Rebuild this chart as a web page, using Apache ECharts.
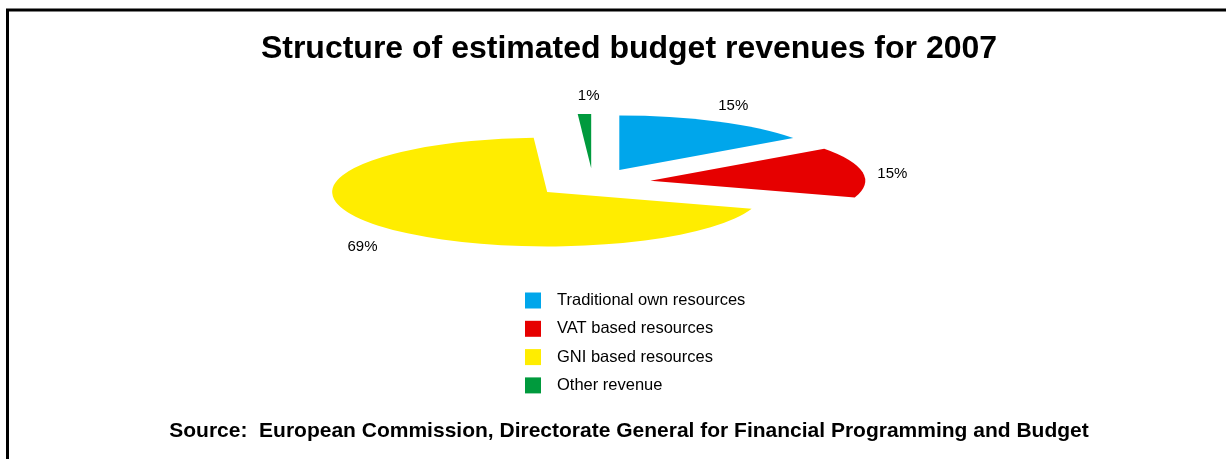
<!DOCTYPE html>
<html>
<head>
<meta charset="utf-8">
<style>
  html, body { margin: 0; padding: 0; background: #fff; }
  #chart { width: 1226px; height: 459px; }
</style>
<script src="https://cdn.jsdelivr.net/npm/echarts@6/dist/echarts.min.js"></script>
</head>
<body>
<div id="chart"></div>
<script>
// Budget revenue categories and their shares (percent)
const categories = [
  'Traditional own resources',
  'VAT based resources',
  'GNI based resources',
  'Other revenue'
];
const shares = [15, 15, 69, 1];
const sliceColors = ['#00A6EB', '#E60000', '#FFED00', '#009A3D'];

const titleText = 'Structure of estimated budget revenues for 2007';
const sourceText = 'Source:  European Commission, Directorate General for Financial Programming and Budget';

// Flattened (tilted) exploded pie geometry
const PIE = {
  cx: 593,        // centre of the un-exploded pie
  cy: 183,
  r: 215,         // horizontal radius
  tilt: 0.253,    // vertical squash of the disc
  explode: 58,    // radial offset of each slice
  labelRx: 240,   // label distance from slice centre (x)
  labelRy: 79,    // label distance from slice centre (y)
  labelDx: 5,
  labelDy: 6
};

const total = shares.reduce((a, b) => a + b, 0);
const cumBefore = shares.map((_, i) => shares.slice(0, i).reduce((a, b) => a + b, 0));

function renderSlice(params, api) {
  const v = api.value(0);
  const before = api.value(1);
  const sum = api.value(2);
  const a0 = before / sum * Math.PI * 2;
  const a1 = (before + v) / sum * Math.PI * 2;
  const mid = (a0 + a1) / 2;
  const sx = PIE.cx + Math.sin(mid) * PIE.explode;
  const sy = PIE.cy - Math.cos(mid) * PIE.explode * PIE.tilt;
  return {
    type: 'group',
    children: [
      {
        type: 'sector',
        x: sx,
        y: sy,
        scaleY: PIE.tilt,
        shape: {
          cx: 0, cy: 0, r0: 0, r: PIE.r,
          startAngle: a0 - Math.PI / 2,
          endAngle: a1 - Math.PI / 2,
          clockwise: true
        },
        style: { fill: api.visual('color') }
      },
      {
        type: 'text',
        x: sx + Math.sin(mid) * PIE.labelRx + PIE.labelDx,
        y: sy - Math.cos(mid) * PIE.labelRy + PIE.labelDy,
        style: {
          text: v + '%',
          fill: '#000',
          font: '15px "Liberation Sans", Arial, sans-serif',
          align: 'center',
          verticalAlign: 'middle'
        }
      }
    ]
  };
}

const series = categories.map((name, i) => ({
  type: 'custom',
  name: name,
  coordinateSystem: 'none',
  color: sliceColors[i],
  renderItem: renderSlice,
  silent: true,
  data: [[shares[i], cumBefore[i], total]]
}));

const chart = echarts.init(document.getElementById('chart'), null, { renderer: 'canvas' });
chart.setOption({
  animation: false,
  backgroundColor: '#fff',
  title: [
    {
      text: titleText,
      left: 624,
      textAlign: 'center',
      top: 28,
      textStyle: {
        fontFamily: '"Liberation Sans", Arial, sans-serif',
        fontSize: 32,
        fontWeight: 'bold',
        color: '#000'
      }
    },
    {
      text: sourceText,
      left: 624,
      textAlign: 'center',
      top: 416,
      textStyle: {
        fontFamily: '"Liberation Sans", Arial, sans-serif',
        fontSize: 21,
        fontWeight: 'bold',
        color: '#000'
      }
    }
  ],
  legend: {
    orient: 'vertical',
    left: 520,
    top: 287,
    itemWidth: 16,
    itemHeight: 16,
    itemGap: 11.3,
    icon: 'rect',
    selectedMode: false,
    data: categories,
    textStyle: {
      fontFamily: '"Liberation Sans", Arial, sans-serif',
      fontSize: 16.5,
      color: '#000',
      padding: [0, 0, 0, 11]
    }
  },
  graphic: [
    {
      type: 'polyline',
      shape: { points: [[7.5, 459], [7.5, 10], [1226, 10]] },
      style: { stroke: '#000', lineWidth: 3, fill: null }
    }
  ],
  series: series
});
</script>
</body>
</html>
